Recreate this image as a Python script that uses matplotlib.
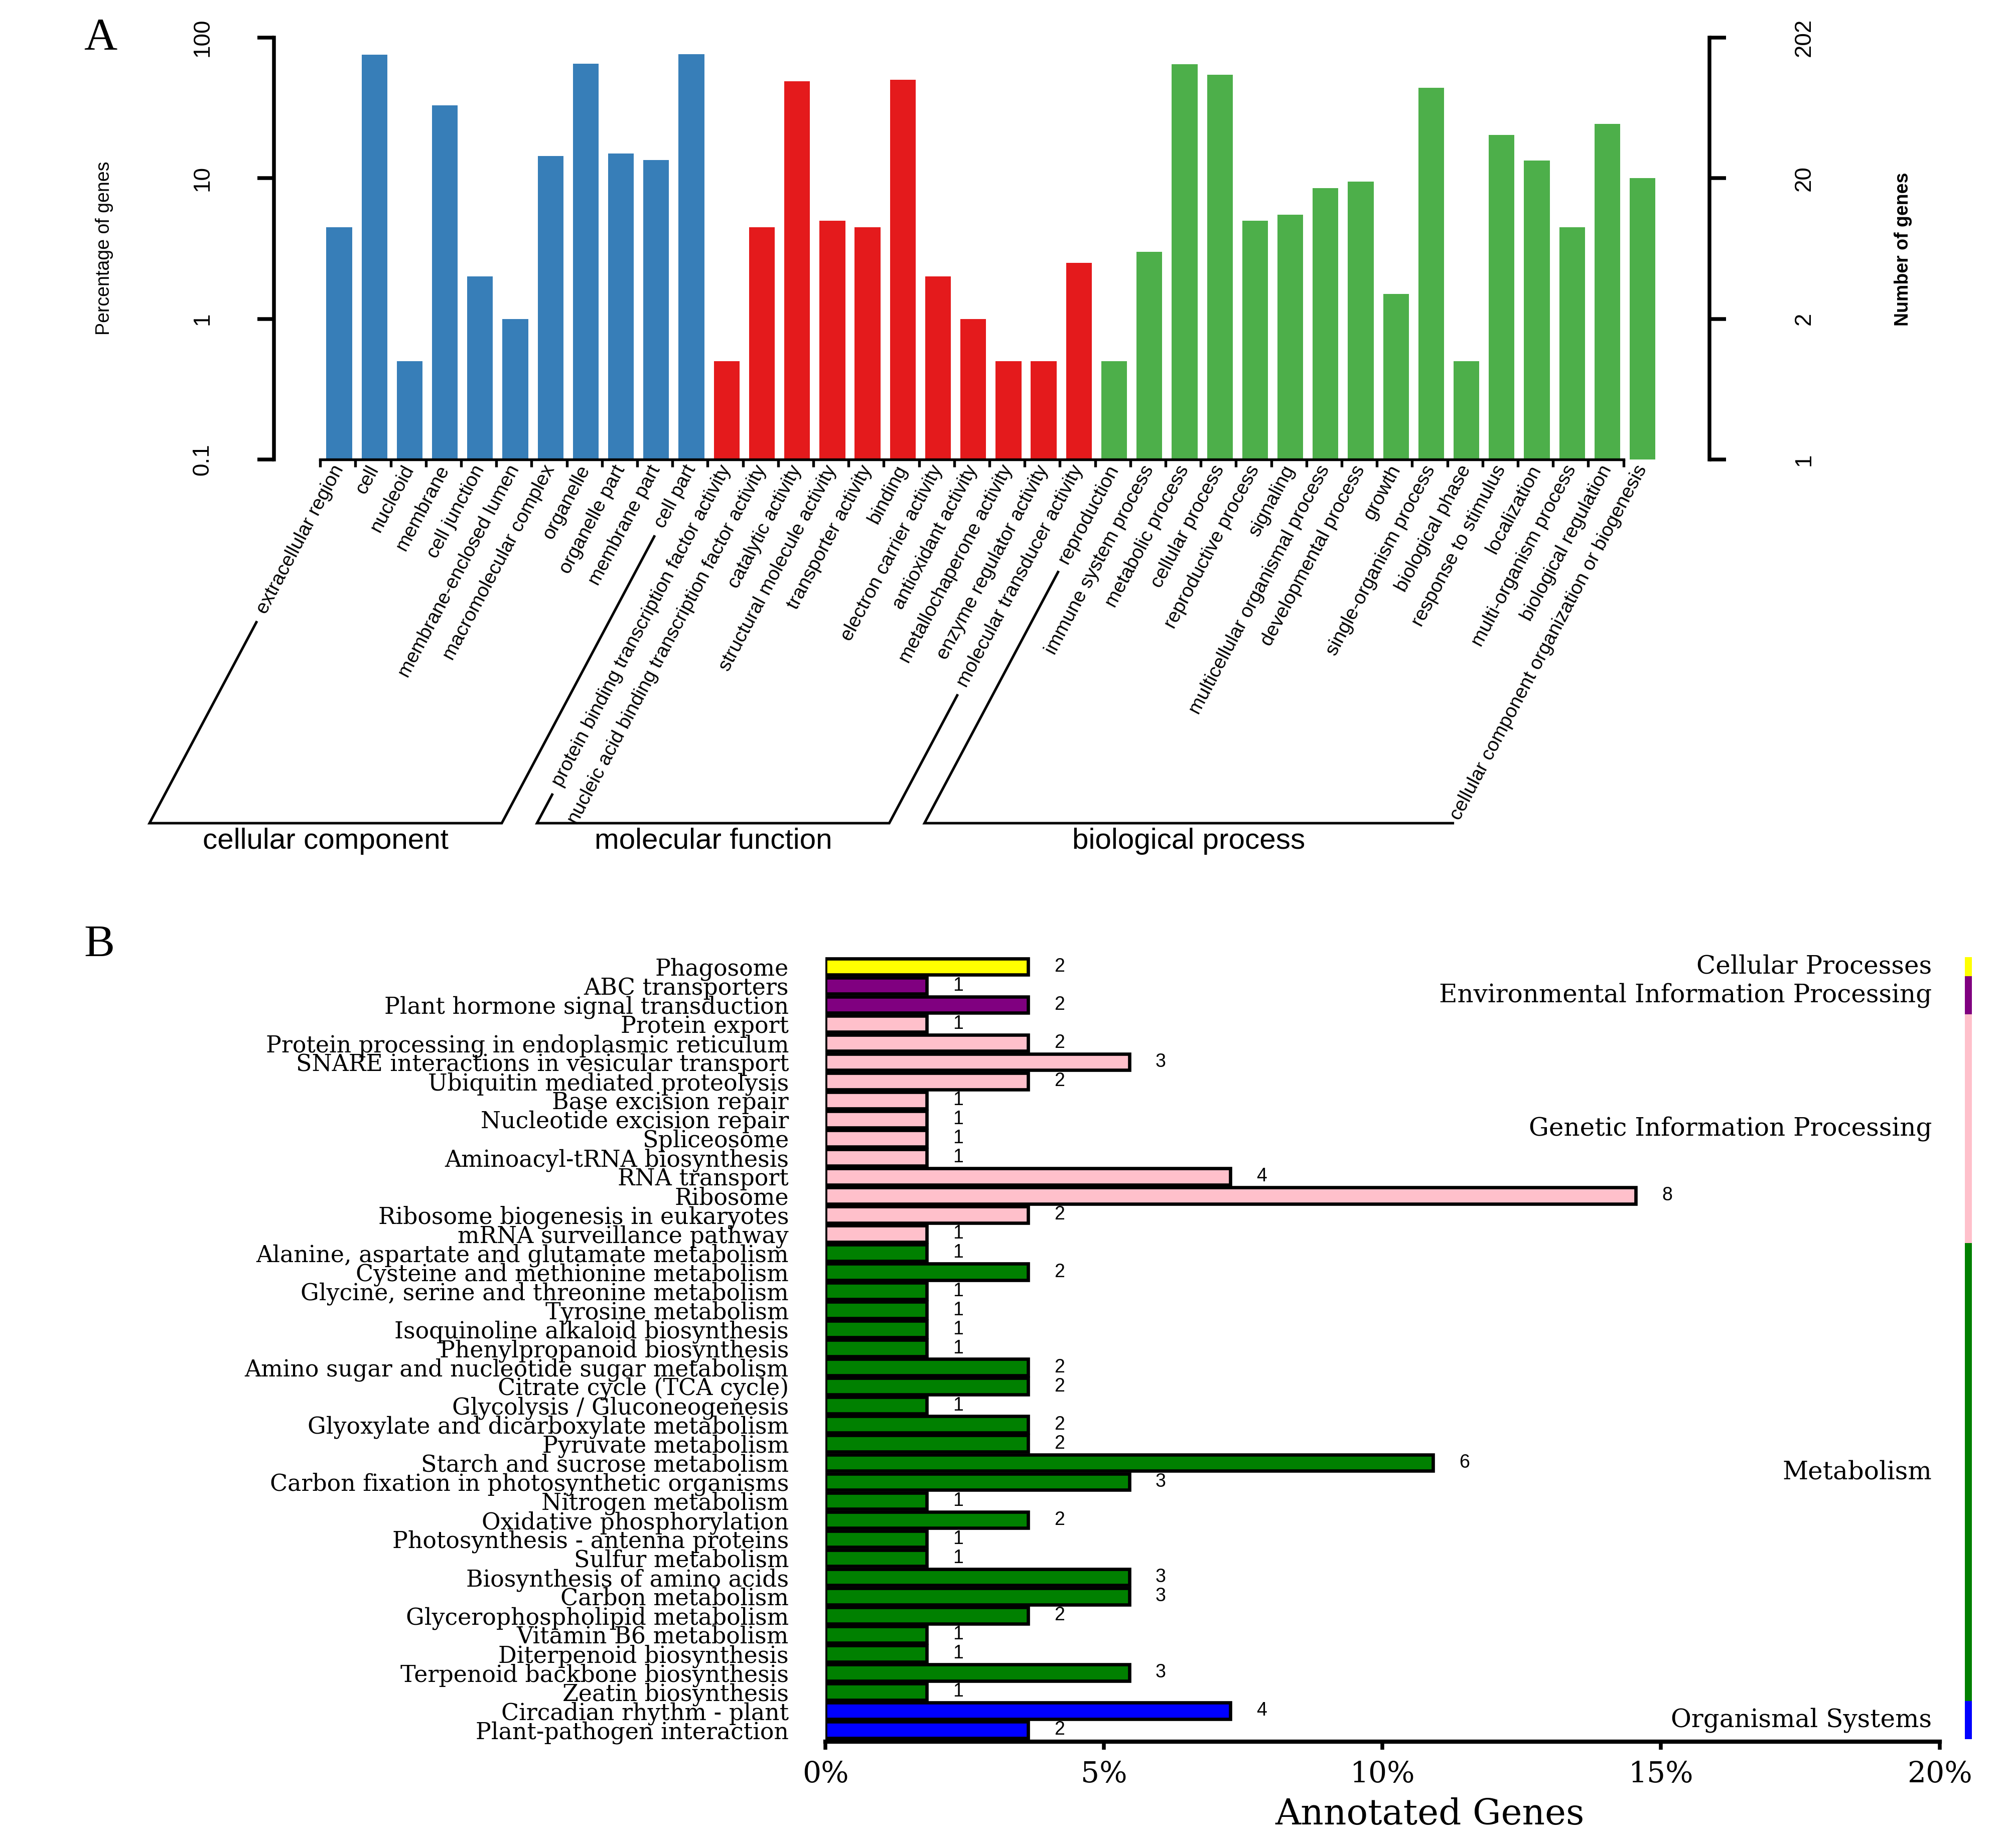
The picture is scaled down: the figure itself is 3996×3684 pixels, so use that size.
import numpy as np
import matplotlib
matplotlib.use('Agg')
import matplotlib.pyplot as plt
from matplotlib.lines import Line2D
from matplotlib.ticker import NullLocator
import matplotlib.transforms as mtransforms

# ---- panel A : GO classification ----
cc_terms = ['extracellular region', 'cell', 'nucleoid', 'membrane', 'cell junction',
            'membrane-enclosed lumen', 'macromolecular complex', 'organelle',
            'organelle part', 'membrane part', 'cell part']
cc_pct = [4.5, 75.5, 0.5, 33, 2, 1, 14.4, 65.5, 15, 13.5, 76.5]

mf_terms = ['protein binding transcription factor activity',
            'nucleic acid binding transcription factor activity', 'catalytic activity',
            'structural molecule activity', 'transporter activity', 'binding',
            'electron carrier activity', 'antioxidant activity', 'metallochaperone activity',
            'enzyme regulator activity', 'molecular transducer activity']
mf_pct = [0.5, 4.5, 49, 5, 4.5, 50, 2, 1, 0.5, 0.5, 2.5]

bp_terms = ['reproduction', 'immune system process', 'metabolic process', 'cellular process',
            'reproductive process', 'signaling', 'multicellular organismal process',
            'developmental process', 'growth', 'single-organism process', 'biological phase',
            'response to stimulus', 'localization', 'multi-organism process',
            'biological regulation', 'cellular component organization or biogenesis']
bp_pct = [0.5, 3, 64.5, 54.5, 5, 5.5, 8.5, 9.5, 1.5, 44, 0.5, 20.3, 13.4, 4.5, 24.4, 10]

go_groups = ['cellular component', 'molecular function', 'biological process']
go_colors = ['#377EB8', '#E41A1C', '#4DAF4A']

left_ticks = [0.1, 1, 10, 100]
left_labels = ['0.1', '1', '10', '100']
right_labels = ['1', '2', '20', '202']

# ---- panel B : KEGG classification ----
pathways = ['Phagosome', 'ABC transporters', 'Plant hormone signal transduction',
            'Protein export', 'Protein processing in endoplasmic reticulum',
            'SNARE interactions in vesicular transport', 'Ubiquitin mediated proteolysis',
            'Base excision repair', 'Nucleotide excision repair', 'Spliceosome',
            'Aminoacyl-tRNA biosynthesis', 'RNA transport', 'Ribosome',
            'Ribosome biogenesis in eukaryotes', 'mRNA surveillance pathway',
            'Alanine, aspartate and glutamate metabolism', 'Cysteine and methionine metabolism',
            'Glycine, serine and threonine metabolism', 'Tyrosine metabolism',
            'Isoquinoline alkaloid biosynthesis', 'Phenylpropanoid biosynthesis',
            'Amino sugar and nucleotide sugar metabolism', 'Citrate cycle (TCA cycle)',
            'Glycolysis / Gluconeogenesis', 'Glyoxylate and dicarboxylate metabolism',
            'Pyruvate metabolism', 'Starch and sucrose metabolism',
            'Carbon fixation in photosynthetic organisms', 'Nitrogen metabolism',
            'Oxidative phosphorylation', 'Photosynthesis - antenna proteins', 'Sulfur metabolism',
            'Biosynthesis of amino acids', 'Carbon metabolism', 'Glycerophospholipid metabolism',
            'Vitamin B6 metabolism', 'Diterpenoid biosynthesis', 'Terpenoid backbone biosynthesis',
            'Zeatin biosynthesis', 'Circadian rhythm - plant', 'Plant-pathogen interaction']
path_counts = [2, 1, 2, 1, 2, 3, 2, 1, 1, 1, 1, 4, 8, 2, 1,
               1, 2, 1, 1, 1, 1, 2, 2, 1, 2, 2, 6, 3, 1, 2, 1, 1, 3, 3, 2, 1, 1, 3, 1,
               4, 2]
total_annotated = 55

kegg_groups = ['Cellular Processes', 'Environmental Information Processing',
               'Genetic Information Processing', 'Metabolism', 'Organismal Systems']
kegg_group_sizes = [1, 2, 12, 24, 2]
kegg_colors = ['#FFFF00', '#800080', '#FFC0CB', '#008000', '#0000FF']
pct_ticks = [0, 5, 10, 15, 20]

W, H = 3996, 3684
fig = plt.figure(figsize=(W / 300, H / 300), dpi=300)

def fx(px):
    return px / W

def fy(py):
    return 1 - py / H

# ================= panel A =================
terms = cc_terms + mf_terms + bp_terms
vals = np.array(cc_pct + mf_pct + bp_pct)
sizes = [len(cc_terms), len(mf_terms), len(bp_terms)]
cols = []
for c, n in zip(go_colors, sizes):
    cols += [c] * n
n = len(terms)
x = np.arange(n)

ax = fig.add_axes([fx(546), fy(916), fx(3407) - fx(546), fy(75) - fy(916)])
ax.set_yscale('log')
ax.bar(x, vals - 0.1, bottom=0.1, width=0.73, color=cols, linewidth=0)
ax.set_ylim(0.1, 100)
ax.set_xlim(-1.852, 38.9)
for s in ['top', 'right']:
    ax.spines[s].set_visible(False)
ax.spines['left'].set_linewidth(1.8)
ax.spines['bottom'].set_linewidth(1.3)
ax.spines['bottom'].set_bounds(-0.54, n - 1 - 0.54)
ax.set_xticks(x - 0.54)
ax.set_xticklabels([])
ax.tick_params(axis='x', length=3.6, width=1.3, direction='out')
ax.set_yticks(left_ticks)
ax.set_yticklabels(left_labels, family='Liberation Sans', fontsize=11)
ax.yaxis.set_minor_locator(NullLocator())
ax.tick_params(axis='y', length=8, width=1.8, pad=21, labelrotation=90)
for t in ax.get_yticklabels():
    t.set_va('center')

ax2 = ax.twinx()
ax2.set_yscale('log')
ax2.set_ylim(0.1, 100)
for s in ['top', 'left', 'bottom']:
    ax2.spines[s].set_visible(False)
ax2.spines['right'].set_linewidth(1.8)
ax2.set_yticks(left_ticks)
ax2.set_yticklabels(right_labels, family='Liberation Sans', fontsize=11)
ax2.yaxis.set_minor_locator(NullLocator())
ax2.tick_params(axis='y', length=8, width=1.8, pad=32, labelrotation=90)
for t in ax2.get_yticklabels():
    t.set_va('center')

fig.text(fx(200), fy(77), 'A', family='Liberation Serif', fontsize=22, ha='center', va='center')
fig.text(fx(208), fy(495), 'Percentage of genes', family='Liberation Sans', fontsize=9,
         rotation=90, ha='center', va='center')
fig.text(fx(3793), fy(497), 'Number of genes', family='Liberation Sans', fontsize=9,
         fontweight='bold', rotation=90, ha='center', va='center')

angle = 62
lab_y = -14 / 841.0
trans = mtransforms.blended_transform_factory(ax.transData, ax.transAxes)
labels = []
for i, term in enumerate(terms):
    t = ax.text(i, lab_y, term, transform=trans, rotation=angle, rotation_mode='anchor',
                ha='right', va='center', family='Liberation Sans', fontsize=9.4)
    labels.append(t)

# brackets under the rotated labels, drawn along the label direction
fig.canvas.draw()
renderer = fig.canvas.get_renderer()
tan_a = np.tan(np.radians(angle))
y_bot = H - 1641
to_fig = fig.transFigure.inverted()

def line_point(i, yd):
    axx, axy = trans.transform((i, lab_y))
    return axx - (axy - yd) / tan_a, yd

start = 0
for g, size in enumerate(sizes):
    i0, i1 = start, start + size - 1
    start += size
    top0 = labels[i0].get_window_extent(renderer).y0 - 10
    top1 = labels[i1].get_window_extent(renderer).y0 - 10
    top1 = max(top1, y_bot)
    p = [line_point(i0, top0), line_point(i0, y_bot), line_point(i1, y_bot), line_point(i1, top1)]
    pf = to_fig.transform(p)
    fig.add_artist(Line2D(pf[:, 0], pf[:, 1], color='black', linewidth=1.2,
                          solid_joinstyle='miter'))
    xm = (pf[1, 0] + pf[2, 0]) / 2
    fig.text(xm, fy(1650), go_groups[g], family='Liberation Sans', fontsize=14,
             ha='center', va='top')

# ================= panel B =================
counts = np.array(path_counts)
pct = counts / total_annotated * 100
rows = np.arange(len(pathways))
row_colors = []
for c, n_ in zip(kegg_colors, kegg_group_sizes):
    row_colors += [c] * n_

axb = fig.add_axes([fx(1645), fy(3472), fx(3950) - fx(1645), fy(1906) - fy(3472)])
axb.barh(rows, pct, height=0.86, color=row_colors, edgecolor='black', linewidth=1.6)
axb.set_ylim(40.62, -0.55)
axb.set_xlim(0, 20.76)
for s in ['top', 'right', 'left']:
    axb.spines[s].set_visible(False)
axb.spines['bottom'].set_linewidth(2.0)
axb.spines['bottom'].set_bounds(0, 20)
axb.set_yticks(rows)
axb.set_yticklabels(pathways, family='DejaVu Serif', fontsize=11)
axb.tick_params(axis='y', length=0, pad=17.5)
axb.set_xticks(pct_ticks)
axb.set_xticklabels(['%d%%' % v for v in pct_ticks], family='DejaVu Serif', fontsize=14)
axb.tick_params(axis='x', length=3.8, width=1.8, pad=5)

for r, p_, c in zip(rows, pct, counts):
    axb.annotate(str(c), (p_, r), xytext=(12.5, 0), textcoords='offset points',
                 ha='left', va='center', family='Liberation Sans', fontsize=9)

# coloured strip and group names on the right
start = 0
for name, size, c in zip(kegg_groups, kegg_group_sizes, kegg_colors):
    center = start + (size - 1) / 2.0
    axb.barh(center, 0.126, left=20.45, height=size, color=c, linewidth=0, clip_on=False)
    axb.text(19.86, center, name, ha='right', va='center', family='DejaVu Serif', fontsize=12)
    start += size

fig.text(fx(198), fy(1885), 'B', family='Liberation Serif', fontsize=22, ha='center', va='center')
fig.text(fx(2850), fy(3617), 'Annotated Genes', family='DejaVu Serif', fontsize=17,
         ha='center', va='center')

fig.savefig('out.png', dpi=300)
